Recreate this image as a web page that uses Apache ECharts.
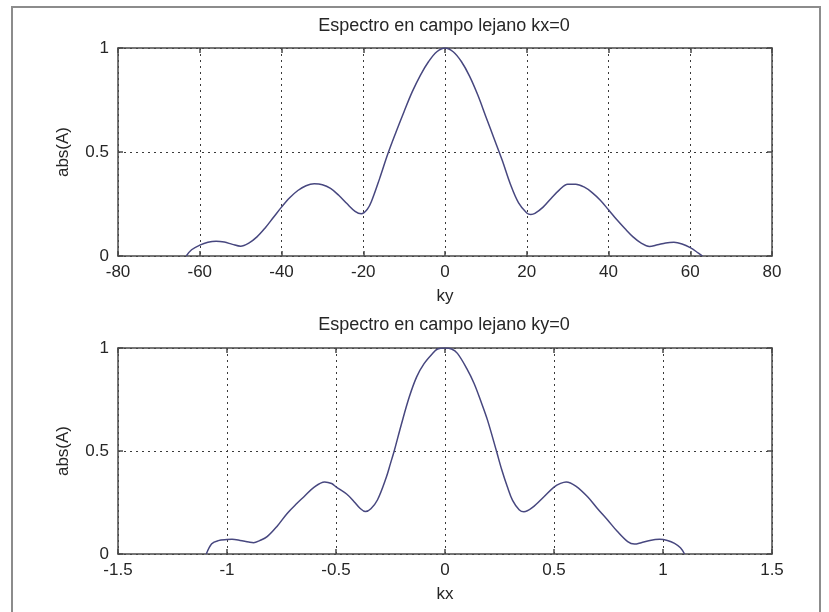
<!DOCTYPE html>
<html>
<head>
<meta charset="utf-8">
<script src="https://cdn.jsdelivr.net/npm/echarts@6/dist/echarts.min.js"></script>
<style>
html,body{margin:0;padding:0;background:#fff;}
#chart{width:829px;height:612px;}
</style>
</head>
<body>
<div id="chart"></div>
<script>
// ---- data ----
const titleTop = 'Espectro en campo lejano kx=0';
const titleBottom = 'Espectro en campo lejano ky=0';
const yLabel = 'abs(A)';
const xLabelTop = 'ky';
const xLabelBottom = 'kx';

const topKy = [-63.3,-62,-60,-58,-56,-54,-52,-50,-48,-46,-44,-42,-40,-38,-36,-34,-32,-30,-28,-26,-24,-22,-20.5,-19,-18,-16,-14,-12,-10,-8,-6,-4,-2,0,2,4,6,8,10,12,14,16,18,20,21,22,24,26,28,30,32,34,36,38,40,42,44,46,48,50,52,54,56,58,60,62,63];
const topAbs = [0,0.03,0.052,0.066,0.071,0.067,0.056,0.047,0.062,0.092,0.135,0.185,0.235,0.28,0.315,0.338,0.347,0.343,0.325,0.292,0.252,0.215,0.203,0.225,0.262,0.372,0.49,0.595,0.695,0.79,0.87,0.935,0.982,1.0,0.982,0.935,0.865,0.775,0.67,0.565,0.46,0.345,0.255,0.207,0.2,0.205,0.235,0.278,0.318,0.345,0.345,0.332,0.305,0.268,0.222,0.175,0.132,0.092,0.062,0.046,0.054,0.063,0.066,0.058,0.04,0.014,0];

const botKx = [-1.095,-1.07,-1.04,-1.0,-0.977,-0.94,-0.9,-0.878,-0.85,-0.816,-0.77,-0.724,-0.68,-0.647,-0.6,-0.552,-0.52,-0.5,-0.45,-0.417,-0.39,-0.365,-0.34,-0.31,-0.27,-0.25,-0.233,-0.2,-0.164,-0.13,-0.096,-0.06,-0.034,0,0.03,0.057,0.1,0.133,0.165,0.195,0.236,0.26,0.286,0.31,0.34,0.362,0.4,0.454,0.5,0.53,0.556,0.6,0.654,0.7,0.746,0.79,0.838,0.869,0.9,0.94,0.984,1.02,1.053,1.08,1.099];
const botAbs = [0,0.05,0.065,0.07,0.071,0.066,0.058,0.055,0.065,0.084,0.135,0.197,0.245,0.278,0.325,0.35,0.342,0.326,0.29,0.254,0.222,0.206,0.22,0.262,0.37,0.44,0.5,0.63,0.762,0.86,0.924,0.97,0.995,1.0,0.995,0.974,0.9,0.829,0.74,0.65,0.5,0.41,0.326,0.26,0.215,0.205,0.225,0.278,0.325,0.343,0.35,0.33,0.278,0.22,0.165,0.11,0.06,0.048,0.055,0.066,0.071,0.066,0.052,0.03,0];

const topXRange = [-80, 80, 20];
const botXRange = [-1.5, 1.5, 0.5];
const yRange = [0, 1, 0.5];

// ---- styling ----
const FONT = 'Liberation Sans, Arial, sans-serif';
const TXT = '#262626';
const BOX = '#4a4a4a';
const LINE = '#47477f';

function xAxes(grid, r, name) {
  return [
    {
      gridIndex: grid, type: 'value', min: r[0], max: r[1], interval: r[2], position: 'bottom',
      axisLine: { show: true, onZero: false, lineStyle: { color: BOX, width: 1.5 } },
      axisTick: { show: true, inside: true, length: 5, lineStyle: { color: BOX, width: 1.5 } },
      axisLabel: { fontSize: 17, color: TXT, fontFamily: FONT, margin: 8 },
      splitLine: { show: true, lineStyle: { type: [2, 4], color: '#3a3a3a', width: 1 } },
      name: name, nameLocation: 'middle', nameGap: 32,
      nameTextStyle: { fontSize: 17, color: TXT, fontFamily: FONT }
    },
    {
      gridIndex: grid, type: 'value', min: r[0], max: r[1], interval: r[2], position: 'top',
      axisLine: { show: true, onZero: false, lineStyle: { color: BOX, width: 1.5 } },
      axisTick: { show: true, inside: true, length: 5, lineStyle: { color: BOX, width: 1.5 } },
      axisLabel: { show: false }, splitLine: { show: false }
    }
  ];
}
function yAxes(grid, r, name) {
  return [
    {
      gridIndex: grid, type: 'value', min: r[0], max: r[1], interval: r[2], position: 'left',
      axisLine: { show: true, onZero: false, lineStyle: { color: BOX, width: 1.5 } },
      axisTick: { show: true, inside: true, length: 5, lineStyle: { color: BOX, width: 1.5 } },
      axisLabel: { fontSize: 17, color: TXT, fontFamily: FONT, margin: 9 },
      splitLine: { show: true, lineStyle: { type: [2, 4], color: '#3a3a3a', width: 1 } },
      name: name, nameLocation: 'middle', nameGap: 46, nameRotate: 90,
      nameTextStyle: { fontSize: 17, color: TXT, fontFamily: FONT }
    },
    {
      gridIndex: grid, type: 'value', min: r[0], max: r[1], interval: r[2], position: 'right',
      axisLine: { show: true, onZero: false, lineStyle: { color: BOX, width: 1.5 } },
      axisTick: { show: true, inside: true, length: 5, lineStyle: { color: BOX, width: 1.5 } },
      axisLabel: { show: false }, splitLine: { show: false }
    }
  ];
}

const chart = echarts.init(document.getElementById('chart'), null, { renderer: 'canvas' });
chart.setOption({
  animation: false,
  backgroundColor: '#ffffff',
  grid: [
    { left: 118, top: 48, width: 654, height: 208 },
    { left: 118, top: 348, width: 654, height: 206 }
  ],
  xAxis: [].concat(xAxes(0, topXRange, xLabelTop), xAxes(1, botXRange, xLabelBottom)),
  yAxis: [].concat(yAxes(0, yRange, yLabel), yAxes(1, yRange, yLabel)),
  graphic: [
    { type: 'rect', silent: true, shape: { x: 12, y: 7, width: 808, height: 640 },
      style: { fill: 'none', stroke: '#8c8c8c', lineWidth: 2 } },
    { type: 'text', x: 444, y: 26, silent: true,
      style: { text: titleTop, fontSize: 18, fontFamily: FONT, fill: TXT, textAlign: 'center', textVerticalAlign: 'middle' } },
    { type: 'text', x: 444, y: 325, silent: true,
      style: { text: titleBottom, fontSize: 18, fontFamily: FONT, fill: TXT, textAlign: 'center', textVerticalAlign: 'middle' } }
  ],
  series: [
    { type: 'line', xAxisIndex: 0, yAxisIndex: 0, showSymbol: false, smooth: 0.35,
      lineStyle: { color: LINE, width: 1.5 }, data: topKy.map((x, i) => [x, topAbs[i]]) },
    { type: 'line', xAxisIndex: 2, yAxisIndex: 2, showSymbol: false, smooth: 0.35,
      lineStyle: { color: LINE, width: 1.5 }, data: botKx.map((x, i) => [x, botAbs[i]]) }
  ]
});
</script>
</body>
</html>
